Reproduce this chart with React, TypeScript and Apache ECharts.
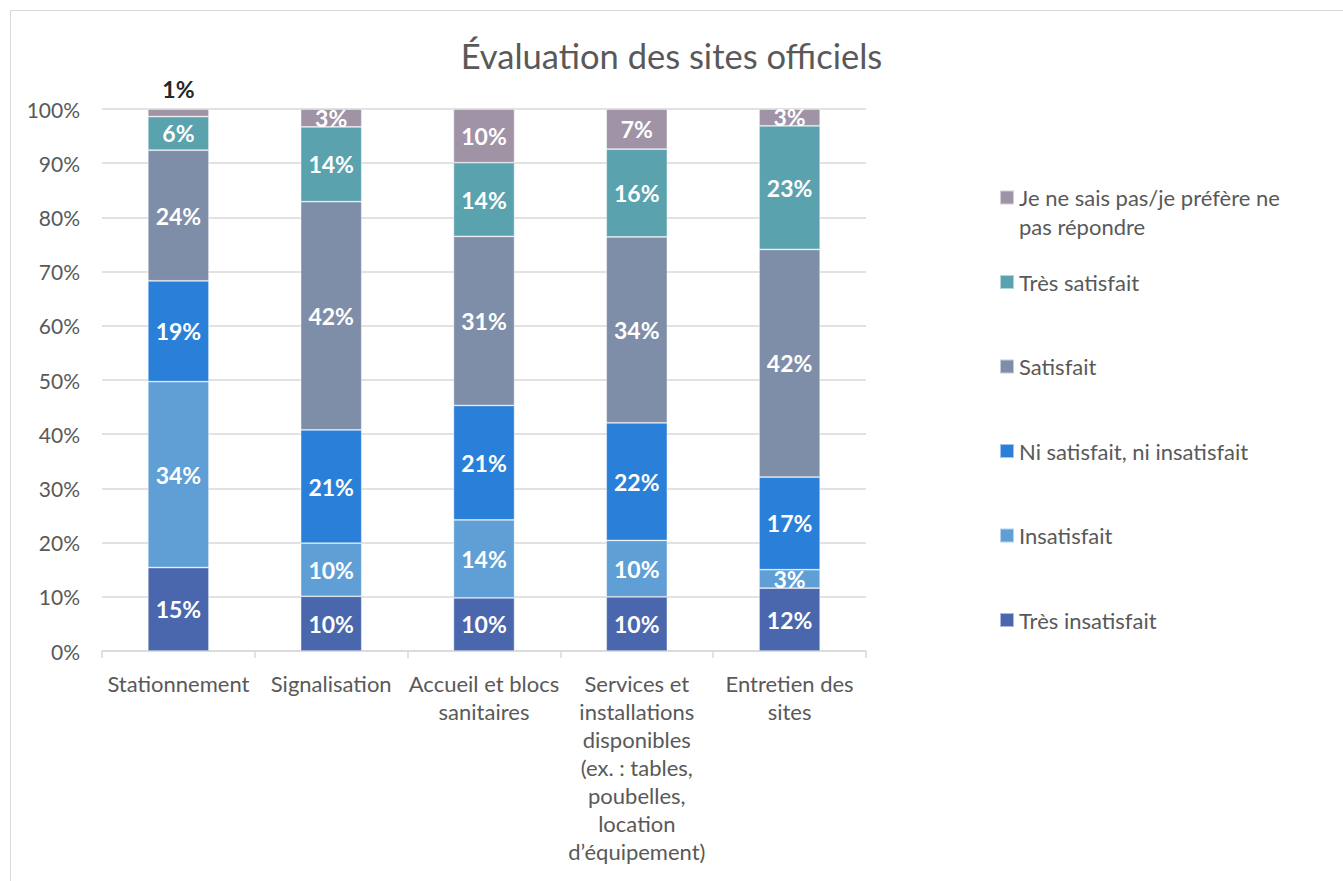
import React, { useEffect, useRef } from "react";
import * as echarts from "echarts";

const categories = [
  "Stationnement",
  "Signalisation",
  "Accueil et blocs\nsanitaires",
  "Services et\ninstallations\ndisponibles\n(ex. : tables,\npoubelles,\nlocation\nd’équipement)",
  "Entretien des\nsites",
];

const seriesNames = [
  "Très insatisfait",
  "Insatisfait",
  "Ni satisfait, ni insatisfait",
  "Satisfait",
  "Très satisfait",
  "Je ne sais pas/je préfère ne pas répondre",
];

const tresInsatisfait = [15.4, 10.1, 9.8, 10.0, 11.6];
const insatisfait = [34.3, 9.8, 14.4, 10.4, 3.4];
const niSatisfait = [18.6, 20.9, 21.1, 21.7, 17.1];
const satisfait = [24.1, 42.1, 31.2, 34.3, 42.0];
const tresSatisfait = [6.2, 13.8, 13.6, 16.2, 22.8];
const jeNeSaisPas = [1.4, 3.3, 9.9, 7.4, 3.1];

const yTicks = [0, 10, 20, 30, 40, 50, 60, 70, 80, 90, 100];

const colors = ["#4a66ac", "#609fd6", "#2a7fd8", "#7f8ea8", "#5aa3ae", "#a093a6"];

const FONT = 'Lato, "Open Sans", sans-serif';
const TEXT = "#595959";

export default function App() {
  const ref = useRef<HTMLDivElement>(null);

  useEffect(() => {
    if (!ref.current) return;
    const chart = echarts.init(ref.current, null, { renderer: "svg" });
    const allValues = [tresInsatisfait, insatisfait, niSatisfait, satisfait, tresSatisfait, jeNeSaisPas];

    const series = allValues.map((vals, i) => ({
      name: seriesNames[i],
      type: "bar",
      stack: "total",
      barWidth: "40%",
      itemStyle: { color: colors[i], borderColor: "rgba(255,255,255,0.55)", borderWidth: 0.75 },
      label: {
        show: true,
        position: "inside",
        color: "#ffffff",
        fontFamily: FONT,
        fontWeight: "bold",
        fontSize: 23,
        formatter: (p: any) => Math.round(p.value) + "%",
      },
      data: vals.map((v) =>
        v < 2
          ? { value: v, label: { position: "top", color: "#262626", distance: 9 } }
          : v
      ),
    }));

    const legendText = { color: TEXT, fontFamily: FONT, fontSize: 22 };

    chart.setOption({
      animation: false,
      title: {
        text: "Évaluation des sites officiels",
        left: "center",
        top: 33,
        textStyle: { color: TEXT, fontFamily: FONT, fontSize: 34.5, fontWeight: "normal" },
      },
      graphic: [
        {
          type: "rect",
          shape: { x: 10.5, y: 10.5, width: 1345, height: 880 },
          style: { fill: "none", stroke: "#d9d9d9", lineWidth: 1 },
          silent: true,
        },
      ],
      legend: [
        {
          orient: "vertical",
          left: 999,
          top: 182,
          padding: 0,
          itemWidth: 14,
          itemHeight: 58,
          selectedMode: false,
          icon: "path://M0,7.5H14V21.5H0ZM0,0H14M0,58H14",
          data: [seriesNames[5]],
          formatter: () => "Je ne sais pas/je préfère ne\npas répondre",
          textStyle: { ...legendText, lineHeight: 29 },
        },
        {
          orient: "vertical",
          left: 999,
          top: 268,
          padding: 0,
          itemWidth: 14,
          itemHeight: 14,
          itemGap: 56.5,
          selectedMode: false,
          icon: "rect",
          data: [seriesNames[4], seriesNames[3], seriesNames[2], seriesNames[1], seriesNames[0]],
          textStyle: { ...legendText, lineHeight: 28 },
        },
      ],
      grid: { left: 102, right: 477, top: 109, bottom: 230, containLabel: false },
      xAxis: {
        type: "category",
        data: categories,
        axisLine: { lineStyle: { color: "#d9d9d9", width: 1.5 } },
        axisTick: { show: true, length: 7, alignWithLabel: false, lineStyle: { color: "#d9d9d9", width: 1.5 } },
        axisLabel: {
          color: TEXT,
          fontFamily: FONT,
          fontSize: 22,
          lineHeight: 28,
          margin: 18,
          interval: 0,
          align: "center",
        },
      },
      yAxis: {
        type: "value",
        min: yTicks[0],
        max: yTicks[yTicks.length - 1],
        interval: 10,
        axisLine: { show: false },
        axisTick: { show: false },
        splitLine: { lineStyle: { color: "#d9d9d9", width: 1.5 } },
        axisLabel: {
          color: TEXT,
          fontFamily: FONT,
          fontSize: 21,
          margin: 22,
          formatter: "{value}%",
        },
      },
      series,
    });

    return () => chart.dispose();
  }, []);

  return (
    <div
      ref={ref}
      style={{ position: "fixed", left: 0, top: 0, width: 1343, height: 881, background: "#ffffff" }}
    />
  );
}
